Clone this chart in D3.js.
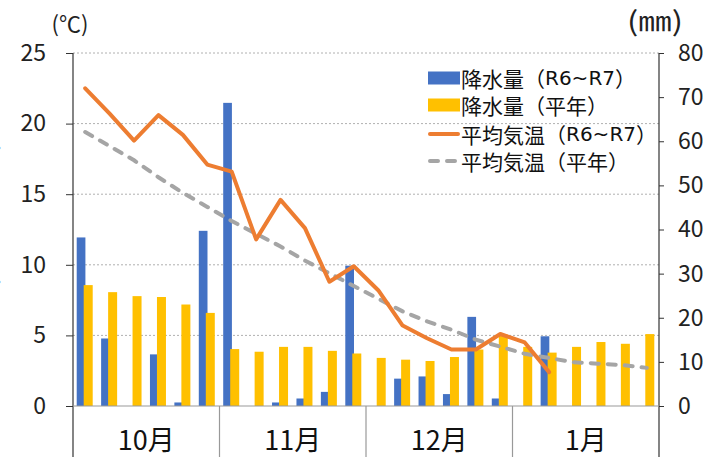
<!DOCTYPE html>
<html><head><meta charset="utf-8">
<script src="https://cdn.jsdelivr.net/npm/d3@7"></script>
<style>
html,body{margin:0;padding:0;background:#fff;}
svg{display:block;font-family:"Noto Sans CJK JP","Noto Sans",sans-serif;}
</style></head>
<body>
<svg id="chart" width="726" height="457"></svg>
<script>
// ---- data ----
const months = ["10月","11月","12月","1月"];
const categories = [
  "10月1","10月2","10月3","10月4","10月5","10月6",
  "11月1","11月2","11月3","11月4","11月5","11月6",
  "12月1","12月2","12月3","12月4","12月5","12月6",
  "1月1","1月2","1月3","1月4","1月5","1月6"
];
const precipRecent = [38.2,15.3,0,11.7,0.8,39.7, 68.7,0,0.8,1.7,3.2,31.8, 0,6.2,6.7,2.7,20.2,1.7, 0,15.8,null,null,null,null];
const precipNormal = [27.4,25.8,24.9,24.7,23.0,21.1, 12.9,12.3,13.4,13.4,12.5,11.9, 10.9,10.5,10.2,11.1,12.8,16.2, 13.4,12.1,13.4,14.5,14.1,16.3];
const tempRecent = [22.5,20.7,18.8,20.6,19.2,17.1, 16.6,11.8,14.6,12.6,8.8,9.9, 8.2,5.7,4.8,4.0,4.0,5.1, 4.5,2.4];
const tempNormal = [19.4,18.4,17.4,16.2,15.1,14.1, 13.1,12.2,11.3,10.3,9.4,8.5, 7.6,6.7,6.0,5.4,4.7,4.2, 3.7,3.4,3.1,3.0,2.9,2.7];
const leftTicks = [0,5,10,15,20,25];
const rightTicks = [0,10,20,30,40,50,60,70,80];
const seriesNames = [["降水量（","R6~R7","）"],["降水量（平年）"],["平均気温（","R6~R7","）"],["平均気温（平年）"]];

const C = {blue:"#4472C4", yellow:"#FFC000", orange:"#ED7D31", grey:"#A5A5A5"};

const svg = d3.select("#chart");
const L = 73, R = 659, T = 53, B = 406;

const x = d3.scaleBand().domain(categories).range([L, R]).padding(0);
const yL = d3.scaleLinear().domain([0,25]).range([B, T]);
const yR = d3.scaleLinear().domain([0,80]).range([B, T]);
const cx = d => x(d) + x.bandwidth()/2;

// gridlines
svg.append("g").selectAll("line").data(leftTicks.filter(t=>t>0)).join("line")
  .attr("x1", L).attr("x2", R).attr("y1", d=>yL(d)).attr("y2", d=>yL(d))
  .attr("stroke","#b0b0b0").attr("stroke-width",1).attr("stroke-dasharray","2,2");

// bars
const bars = svg.append("g");
bars.selectAll("rect.b").data(categories.map((c,i)=>({c,v:precipRecent[i]})).filter(d=>d.v!=null && d.v>0)).join("rect")
  .attr("x", d=>cx(d.c)-8.5).attr("width", 8.7)
  .attr("y", d=>yR(d.v)).attr("height", d=>B-yR(d.v)).attr("fill", C.blue);
bars.selectAll("rect.y").data(categories.map((c,i)=>({c,v:precipNormal[i]}))).join("rect")
  .attr("x", d=>cx(d.c)-1.5).attr("width", 9)
  .attr("y", d=>yR(d.v)).attr("height", d=>B-yR(d.v)).attr("fill", C.yellow);

// lines
const line = d3.line().x(d=>cx(d.c)).y(d=>yL(d.v));
svg.append("path").datum(tempNormal.map((v,i)=>({c:categories[i],v})))
  .attr("d", line).attr("fill","none").attr("stroke",C.grey).attr("stroke-width",4)
  .attr("stroke-dasharray","8,9").attr("stroke-linecap","round");
svg.append("path").datum(tempRecent.map((v,i)=>({c:categories[i],v})))
  .attr("d", line).attr("fill","none").attr("stroke",C.orange).attr("stroke-width",4)
  .attr("stroke-linejoin","round").attr("stroke-linecap","round");

// left axis
const gl = svg.append("g").attr("transform",`translate(${L},0)`)
  .call(d3.axisLeft(yL).tickValues(leftTicks).tickSize(7).tickPadding(20).tickFormat(d3.format("d")));
gl.select(".domain").remove();
gl.selectAll(".tick line").attr("stroke","#333");
gl.selectAll("text").attr("font-size",23).attr("fill","#222").attr("font-family","Noto Sans CJK JP");
svg.append("line").attr("x1",L).attr("x2",L).attr("y1",T).attr("y2",457).attr("stroke","#333").attr("stroke-width",1.2);

// right axis
const gr = svg.append("g").attr("transform",`translate(${R},0)`)
  .call(d3.axisRight(yR).tickValues(rightTicks).tickSize(5).tickPadding(14).tickFormat(d3.format("d")));
gr.select(".domain").remove();
gr.selectAll(".tick line").attr("stroke","#333");
gr.selectAll("text").attr("font-size",23).attr("fill","#222").attr("font-family","Noto Sans CJK JP");
svg.append("line").attr("x1",R).attr("x2",R).attr("y1",T).attr("y2",457).attr("stroke","#333").attr("stroke-width",1.2);

// bottom axis with month dividers
svg.append("line").attr("x1",L).attr("x2",R).attr("y1",B).attr("y2",B).attr("stroke","#999").attr("stroke-width",1.2);
const per = categories.length / months.length;
months.forEach((m,i)=>{
  const x0 = x(categories[i*per]);
  const x1 = x(categories[(i+1)*per-1]) + x.bandwidth();
  if (i>0) svg.append("line").attr("x1",x0).attr("x2",x0).attr("y1",B).attr("y2",457).attr("stroke","#999").attr("stroke-width",1.2);
  svg.append("text").attr("x",(x0+x1)/2).attr("y",450).attr("text-anchor","middle")
    .attr("font-size",27).attr("fill","#111").text(m);
});

// unit labels
svg.append("text").attr("x",70).attr("y",32).attr("text-anchor","middle").attr("font-size",22).attr("fill","#222").text("(℃)");
svg.append("text").attr("x",627).attr("y",31).attr("font-size",27).attr("fill","#222")
  .attr("textLength",56).attr("lengthAdjust","spacingAndGlyphs").text("(㎜)");

// partially hidden rotated axis title at far left (only bracket tips visible, as in the reference)
svg.append("text").attr("transform","translate(-4,215) rotate(-90)").attr("text-anchor","middle")
  .attr("font-family","DejaVu Sans").attr("font-size",30).attr("fill","#222")
  .attr("textLength",150).attr("lengthAdjust","spacing").text("(       )");

// legend
const lg = svg.append("g");
const rows = [78, 105, 134, 161];
const lx = 428;
lg.append("rect").attr("x",lx).attr("y",rows[0]-6.5).attr("width",32).attr("height",13).attr("fill",C.blue);
lg.append("rect").attr("x",lx).attr("y",rows[1]-6.5).attr("width",32).attr("height",13).attr("fill",C.yellow);
lg.append("line").attr("x1",lx+2).attr("x2",lx+30).attr("y1",rows[2]).attr("y2",rows[2]).attr("stroke",C.orange).attr("stroke-width",4).attr("stroke-linecap","round");
lg.append("line").attr("x1",lx+2).attr("x2",lx+30).attr("y1",rows[3]).attr("y2",rows[3]).attr("stroke",C.grey).attr("stroke-width",4).attr("stroke-linecap","round").attr("stroke-dasharray","8,9");
seriesNames.forEach((parts,i)=>{
  const t = lg.append("text").attr("x",lx+33).attr("y",rows[i]).attr("dominant-baseline","central")
    .attr("font-size",21).attr("fill","#111");
  parts.forEach((p,j)=>{
    const ts = t.append("tspan").text(p);
    if (j===1) ts.attr("font-family","DejaVu Sans").attr("font-size",20);
  });
});
</script>
</body></html>
